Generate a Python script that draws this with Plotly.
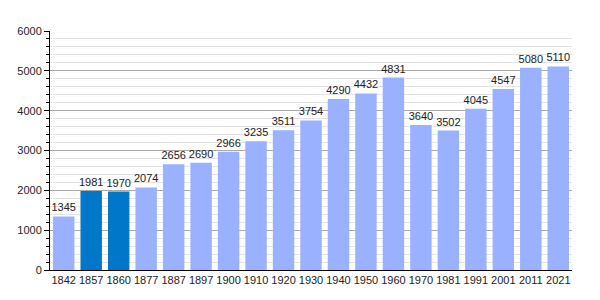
import plotly.graph_objects as go

years = ["1842", "1857", "1860", "1877", "1887", "1897", "1900", "1910", "1920", "1930",
         "1940", "1950", "1960", "1970", "1981", "1991", "2001", "2011", "2021"]
population = [1345, 1981, 1970, 2074, 2656, 2690, 2966, 3235, 3511, 3754,
              4290, 4432, 4831, 3640, 3502, 4045, 4547, 5080, 5110]
highlight = ["1857", "1860"]

colors = ["#0077c8" if y in highlight else "#99b1ff" for y in years]

fig = go.Figure(go.Bar(
    x=years, y=population,
    marker=dict(color=colors, line=dict(width=0)),
    text=[str(v) for v in population],
    textposition="outside",
    constraintext="none",
    textfont=dict(family="Liberation Sans, Arial, sans-serif", size=11, color="#222222"),
    cliponaxis=False,
))

fig.update_layout(
    width=600, height=300,
    margin=dict(l=50, r=28, t=31, b=30),
    paper_bgcolor="white", plot_bgcolor="white",
    bargap=0.22,
    showlegend=False,
    font=dict(family="Liberation Sans, Arial, sans-serif", size=11, color="#222222"),
)
fig.update_xaxes(
    type="category",
    showline=True, linecolor="black", linewidth=1,
    ticks="", showgrid=False,
    tickfont=dict(size=11),
)
fig.update_yaxes(
    range=[0, 6000],
    tickvals=[0, 1000, 2000, 3000, 4000, 5000, 6000],
    showline=True, linecolor="black", linewidth=1,
    ticks="outside", ticklen=5, tickcolor="black",
    showgrid=True, gridcolor="#aaaaaa", gridwidth=1,
    zeroline=False,
    minor=dict(dtick=200, showgrid=True, gridcolor="#e3e3e3", ticks="outside",
               ticklen=3, tickcolor="black"),
    tickfont=dict(size=11),
)

fig.write_html("out.html")
